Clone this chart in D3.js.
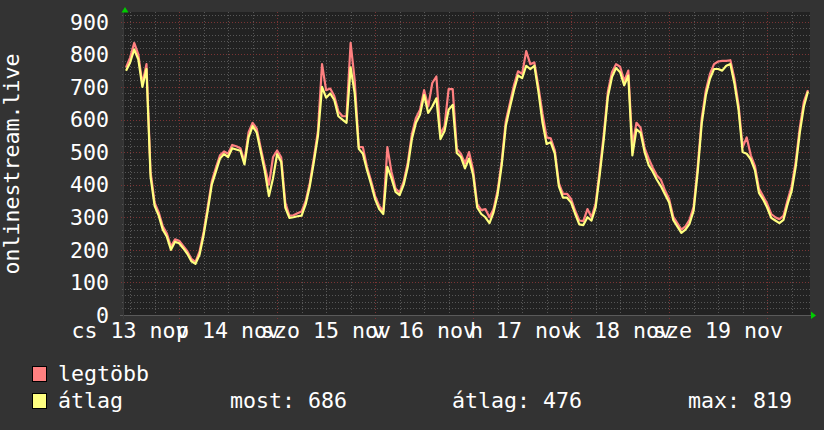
<!DOCTYPE html>
<html><head><meta charset="utf-8">
<script src="https://cdn.jsdelivr.net/npm/d3@7"></script>
<style>html,body{margin:0;padding:0;background:#333333;}svg{display:block}</style>
</head><body>
<svg id="chart" width="824" height="430"></svg>
<script>
// ---------------- data ----------------
const firstSample = new Date(2014, 10, 13, 11, 0);   // hourly samples
const rangeStart  = new Date(2014, 10, 13, 10, 30);
const rangeEnd    = new Date(2014, 10, 20, 10, 30);

const avgValues = [
 750,775,815,785,700,755,425,335,305,262,240,200,225,220,205,188,165,157,185,245,
 320,400,440,480,494,485,512,508,504,462,545,580,560,500,440,365,420,494,470,330,
 298,300,303,305,340,395,470,550,700,667,680,660,610,600,590,760,680,510,495,445,
 402,355,325,310,455,420,378,368,400,455,540,590,615,675,620,640,665,540,565,630,
 645,497,485,450,480,430,330,310,300,282,315,370,460,580,637,690,735,727,765,755,
 765,685,590,525,530,495,395,360,360,345,310,278,276,300,290,330,430,540,670,730,
 758,745,705,735,490,570,560,500,460,440,415,395,370,345,292,272,252,262,280,320,
 440,590,675,725,755,755,750,765,770,710,630,500,495,478,445,375,355,330,298,290,
 282,292,340,380,455,560,640,686
];
const maxValues = [
 760,790,835,800,710,770,440,345,315,272,250,210,232,228,212,196,172,163,195,255,
 332,410,452,490,502,495,522,518,512,472,560,590,572,512,455,400,485,505,484,345,
 305,306,312,318,350,405,482,565,770,690,695,672,625,610,610,835,720,515,515,455,
 412,365,335,318,515,440,388,376,410,468,555,605,630,690,640,712,732,555,580,693,
 693,510,495,465,500,445,340,322,325,300,325,382,472,595,650,705,748,740,810,770,
 775,700,617,545,542,505,405,372,372,356,320,290,288,325,300,342,445,555,685,745,
 770,762,718,750,520,590,575,512,480,452,428,415,382,356,302,282,262,272,292,332,
 455,605,690,740,770,778,780,780,782,725,645,515,545,490,458,388,365,342,310,300,
 294,304,352,395,470,575,655,690
];

const yTickValues = [0,100,200,300,400,500,600,700,800,900];
const dayLabels = ["cs 13 nov","p 14 nov","szo 15 nov","v 16 nov","h 17 nov","k 18 nov","sze 19 nov"];
const dayDates = [13,14,15,16,17,18,19].map(d => new Date(2014, 10, d));
const seriesNames = ["legtöbb","átlag"];
const seriesColors = ["#ff8080","#ffff80"];
const statLabels = ["most: 686","átlag: 476","max: 819"];
const yTitle = "onlinestream.live";

// ---------------- layout ----------------
const L = 124, R = 810, T = 12, B = 315;
const FONT = "'DejaVu Sans Mono', monospace";
const svg = d3.select("#chart");
svg.append("rect").attr("width",824).attr("height",430).attr("fill","#333333");
svg.append("rect").attr("x",L).attr("y",T).attr("width",R-L).attr("height",B-T).attr("fill","#222222");

const x = d3.scaleTime().domain([rangeStart, rangeEnd]).range([L, R]);
const y = d3.scaleLinear().domain([0, 930]).range([B, T]);

const g = svg.append("g");
d3.range(0, 930, 20).filter(v => v % 100 !== 0).forEach(v => {
  g.append("line").attr("x1",L-2).attr("x2",R).attr("y1",Math.round(y(v))+0.5).attr("y2",Math.round(y(v))+0.5)
   .attr("stroke","#575757").attr("stroke-dasharray","1,2").attr("stroke-width",1);
});
d3.timeHour.every(6).range(rangeStart, rangeEnd).filter(t => t.getHours() !== 0).forEach(t => {
  g.append("line").attr("y1",T).attr("y2",B+3).attr("x1",Math.round(x(t))+0.5).attr("x2",Math.round(x(t))+0.5)
   .attr("stroke","#575757").attr("stroke-dasharray","1,2").attr("stroke-width",1);
});
yTickValues.forEach(v => {
  g.append("line").attr("x1",L-3).attr("x2",R).attr("y1",Math.round(y(v))+0.5).attr("y2",Math.round(y(v))+0.5)
   .attr("stroke","#7a3434").attr("stroke-dasharray","1,2").attr("stroke-width",1);
});
d3.timeDay.range(rangeStart, rangeEnd).forEach(t => {
  g.append("line").attr("y1",T).attr("y2",B+4).attr("x1",Math.round(x(t))+0.5).attr("x2",Math.round(x(t))+0.5)
   .attr("stroke","#7a3434").attr("stroke-dasharray","1,2").attr("stroke-width",1);
});

svg.append("line").attr("x1",L-4).attr("x2",R+1).attr("y1",B+0.5).attr("y2",B+0.5).attr("stroke","#5a5a5a");
svg.append("line").attr("x1",L-0.5).attr("x2",L-0.5).attr("y1",T-2).attr("y2",B+4).attr("stroke","#3a3a3a");
svg.append("path").attr("d",`M${L+1},7 L${L-2.5},12.5 L${L+4.5},12.5 Z`).attr("fill","#00cc00");
svg.append("path").attr("d",`M${R+1},311.5 L${R+6},315.5 L${R+1},319 Z`).attr("fill","#00cc00");

svg.append("g").selectAll("text").data(yTickValues).join("text")
  .attr("x",109).attr("y",d => y(d)).attr("dy","0.36em").attr("text-anchor","end")
  .attr("font-family",FONT).attr("font-size","21.6px").attr("fill","#ffffff").text(d => d);

svg.append("g").selectAll("text").data(dayDates).join("text")
  .attr("x",(d) => x(d3.timeHour.offset(d,12))).attr("y",338).attr("text-anchor","middle")
  .attr("font-family",FONT).attr("font-size","21.6px").attr("fill","#ffffff")
  .text((d,i) => dayLabels[i]);

svg.append("text").attr("transform","translate(19,164) rotate(-90)").attr("text-anchor","middle")
  .attr("font-family",FONT).attr("font-size","21.6px").attr("fill","#ffffff").text(yTitle);

const times = avgValues.map((v,i) => d3.timeHour.offset(firstSample, i));
const line = d3.line().x((d,i) => x(times[i])).y(d => y(d)).curve(d3.curveLinear);
const plot = svg.append("g");
plot.append("path").datum(maxValues).attr("d",line).attr("fill","none")
  .attr("stroke",seriesColors[0]).attr("stroke-width",2.2).attr("stroke-linejoin","round");
plot.append("path").datum(avgValues).attr("d",line).attr("fill","none")
  .attr("stroke",seriesColors[1]).attr("stroke-width",2.2).attr("stroke-linejoin","round");

const legY = [381, 408];
seriesNames.forEach((name,i) => {
  svg.append("rect").attr("x",32.5).attr("y",legY[i]-14.5).attr("width",14).attr("height",15)
    .attr("fill",seriesColors[i]).attr("stroke","#000000").attr("stroke-width",1);
  svg.append("text").attr("x",58).attr("y",legY[i]).attr("font-family",FONT).attr("font-size","21.6px")
    .attr("fill","#ffffff").text(name);
});
const statX = [230, 452, 688];
statLabels.forEach((s,i) => {
  svg.append("text").attr("x",statX[i]).attr("y",legY[1]).attr("font-family",FONT).attr("font-size","21.6px")
    .attr("fill","#ffffff").text(s);
});
</script>
</body></html>
